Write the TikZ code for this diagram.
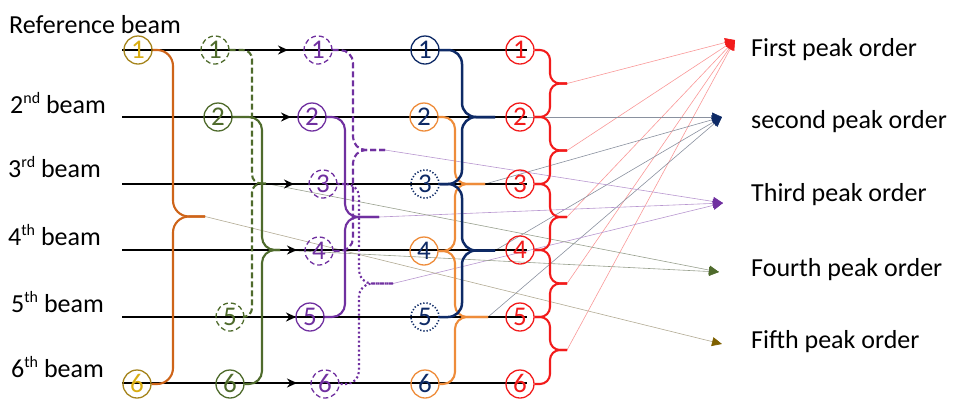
\documentclass[tikz,border=0pt]{standalone}
\usepackage{fontspec}
\setmainfont{Carlito}
\usetikzlibrary{arrows.meta}

\definecolor{goldline}{HTML}{A5841C}
\definecolor{goldtext}{HTML}{D9AD12}
\definecolor{burnt}{HTML}{CE6419}
\definecolor{leaf}{HTML}{4F6B2C}
\definecolor{violet}{HTML}{7030A0}
\definecolor{navy}{HTML}{0E2A66}
\definecolor{amber}{HTML}{EE8C3A}
\definecolor{redx}{HTML}{F21B1B}
\definecolor{olive}{HTML}{7F6000}

% one curly brace between two circles: style, top node, bottom node, spine point, tip point
\newcommand\bracepair[5]{%
  \draw[#1] (#2.east) -- (#2.east -| #4) -- (#4) -- (#5);
  \draw[#1] (#5) -- (#4) -- (#4 |- #3.east) -- (#3.east);}

\newcommand\sups[1]{\raisebox{9.5pt}{\fontsize{16}{16}\selectfont #1}}

\begin{document}
\begin{tikzpicture}[x=1pt,y=-1pt,
  num/.style={circle, draw, line width=1.3pt, minimum size=28pt, inner sep=0pt,
    font=\fontsize{27}{27}\selectfont, text height=17pt, text depth=0pt},
  dashc/.style={dash pattern=on 5pt off 3pt},
  dotc/.style={dash pattern=on 1.3pt off 1.9pt, line width=1.6pt},
  bracepath/.style={line width=2.1pt, rounded corners=#1},
  beamline/.style={line width=1.5pt, black},
  beamtip/.style={line width=2.4pt, black, -{Stealth[length=10pt,width=9pt]}},
  feed/.style={line width=0.6pt, -{Triangle[length=10pt,width=9pt,color=#1]}},
  txt/.style={inner sep=0pt, anchor=base west, font=\fontsize{26}{26}\selectfont}]
\useasboundingbox (0,0) rectangle (956,400);

% beam labels
\node[txt] (lref) at (9,33) {Reference beam};
\node[txt] (l2) at (10,113) {2\sups{nd} beam};
\node[txt] (l3) at (8,177) {3\sups{rd} beam};
\node[txt] (l4) at (8,245) {4\sups{th} beam};
\node[txt] (l5) at (11,312) {5\sups{th} beam};
\node[txt] (l6) at (11,377) {6\sups{th} beam};

% peak order labels
\node[txt] (o1) at (751,56) {First peak order};
\node[txt] (o2) at (751,128) {second peak order};
\node[txt] (o3) at (751,201) {Third peak order};
\node[txt] (o4) at (751,276) {Fourth peak order};
\node[txt] (o5) at (751,348) {Fifth peak order};

% arrow targets
\coordinate (tFirst) at (735,40);
\coordinate (tSecond) at (722,117);
\coordinate (tThird) at (723,203);
\coordinate (tFourth) at (719,272);
\coordinate (tFifth) at (722,344);

% brace spines and tips
\coordinate (vA) at (173,216.5);  \coordinate (pA) at (205,216.5);
\coordinate (vB1) at (252,183.5); \coordinate (pB1) at (266,183.5);
\coordinate (vB2) at (262,250);   \coordinate (pB2) at (280,250);
\coordinate (vC1) at (353,150);   \coordinate (pC1) at (385,150);
\coordinate (vC2) at (345,217);   \coordinate (pC2) at (379,217);
\coordinate (vC3) at (359,283.5); \coordinate (pC3) at (393,283.5);
\coordinate (vD1) at (462,117);   \coordinate (pD1) at (495,117);
\coordinate (vD2) at (462,250.5); \coordinate (pD2) at (495,250.5);
\coordinate (vO1) at (455,184);   \coordinate (pO1) at (485,184);
\coordinate (vO2) at (455,317);   \coordinate (pO2) at (488,317);
\coordinate (vE1) at (550,83.5);  \coordinate (pE1) at (567,83.5);
\coordinate (vE2) at (550,150.5); \coordinate (pE2) at (567,150.5);
\coordinate (vE3) at (550,217);   \coordinate (pE3) at (567,217);
\coordinate (vE4) at (550,283.5); \coordinate (pE4) at (567,283.5);
\coordinate (vE5) at (550,350);   \coordinate (pE5) at (567,350);

% thin feeds to the peak orders
\foreach \p in {pE1,pE2,pE3,pE4,pE5}
  \draw[feed=redx, redx!45] (\p) -- (tFirst);
\foreach \p in {pD1,pD2,pO1,pO2}
  \draw[feed=navy, navy!35!gray!70] (\p) -- (tSecond);
\foreach \p in {pC1,pC2,pC3}
  \draw[feed=violet, violet!50] (\p) -- (tThird);
\foreach \p in {pB1,pB2}
  \draw[feed=leaf, leaf!40!gray!70] (\p) -- (tFourth);
\draw[feed=olive, olive!40!gray!60] (pA) -- (tFifth);

% beams
\foreach \i/\y/\ax/\mx in {1/50/257/288, 2/117/260/291, 3/184/263/294,
                           4/250/268/297, 5/317/265/296, 6/383/265/297}{
  \coordinate (s\i) at (122,\y);
  \coordinate (e\i) at (527,\y);
  \coordinate (a\i) at (\ax,\y);
  \coordinate (m\i) at (\mx,\y);
  \draw[beamline] (s\i) -- (e\i);
  \draw[beamtip] (a\i) -- (m\i);
}

% circles
\node[num, draw=goldline, text=goldtext] (gA1) at (138,50) {1};
\node[num, draw=goldline, text=goldtext] (gA6) at (137,384) {6};

\node[num, draw=leaf, text=leaf, dashc] (gB1) at (215,50) {1};
\node[num, draw=leaf, text=leaf] (gB2) at (218,117) {2};
\node[num, draw=leaf, text=leaf, dashc] (gB5) at (230,317) {5};
\node[num, draw=leaf, text=leaf] (gB6) at (230,384) {6};

\node[num, draw=violet, text=violet, dashc] (gC1) at (318,50) {1};
\node[num, draw=violet, text=violet] (gC2) at (312,117) {2};
\node[num, draw=violet, text=violet, dashc] (gC3) at (323,184) {3};
\node[num, draw=violet, text=violet, dashc] (gC4) at (319,251) {4};
\node[num, draw=violet, text=violet] (gC5) at (310,317) {5};
\node[num, draw=violet, text=violet, dashc] (gC6) at (325,384) {6};

\node[num, draw=navy, text=navy] (gD1) at (425,50) {1};
\node[num, draw=amber, text=navy] (gD2) at (424,117) {2};
\node[num, draw=navy, text=navy, dotc] (gD3) at (425,184) {3};
\node[num, draw=amber, text=navy] (gD4) at (424,251) {4};
\node[num, draw=navy, text=navy, dotc] (gD5) at (425,317) {5};
\node[num, draw=amber, text=navy] (gD6) at (425,384) {6};

\foreach \i/\y in {1/50,2/117,3/184,4/250,5/317,6/384}
  \node[num, draw=redx, text=redx] (gE\i) at (520,\y) {\i};

% braces
\bracepair{bracepath=16pt, burnt}{gA1}{gA6}{vA}{pA}
\bracepair{bracepath=9pt, leaf, dash pattern=on 6pt off 3pt}{gB1}{gB5}{vB1}{pB1}
\bracepair{bracepath=13pt, leaf}{gB2}{gB6}{vB2}{pB2}
\bracepair{bracepath=13pt, violet, dash pattern=on 6pt off 3pt}{gC1}{gC4}{vC1}{pC1}
\bracepair{bracepath=13pt, violet}{gC2}{gC5}{vC2}{pC2}
\bracepair{bracepath=13pt, violet, dash pattern=on 2pt off 2.5pt}{gC3}{gC6}{vC3}{pC3}
\bracepair{bracepath=12pt, amber}{gD2}{gD4}{vO1}{pO1}
\bracepair{bracepath=12pt, amber}{gD4}{gD6}{vO2}{pO2}
\bracepair{bracepath=14pt, navy, line width=2.5pt}{gD1}{gD3}{vD1}{pD1}
\bracepair{bracepath=14pt, navy, line width=2.5pt}{gD3}{gD5}{vD2}{pD2}
\bracepair{bracepath=10pt, redx}{gE1}{gE2}{vE1}{pE1}
\bracepair{bracepath=10pt, redx}{gE2}{gE3}{vE2}{pE2}
\bracepair{bracepath=10pt, redx}{gE3}{gE4}{vE3}{pE3}
\bracepair{bracepath=10pt, redx}{gE4}{gE5}{vE4}{pE4}
\bracepair{bracepath=10pt, redx}{gE5}{gE6}{vE5}{pE5}
\end{tikzpicture}
\end{document}
